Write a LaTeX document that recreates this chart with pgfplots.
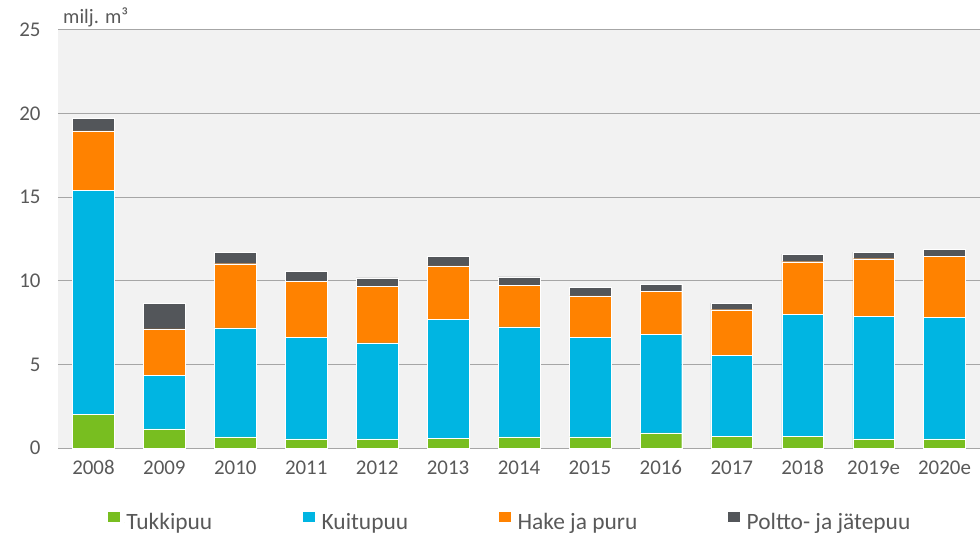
\documentclass[border=0pt]{standalone}
\usepackage{pgfplots}
\pgfplotsset{compat=1.18}
\usepackage{pgfplotstable}
\usepackage{fontspec}
\setmainfont{Carlito}
\definecolor{cGreen}{HTML}{78BE20}
\definecolor{cBlue}{HTML}{00B5E2}
\definecolor{cOrange}{HTML}{FF8200}
\definecolor{cGray}{HTML}{53565A}
\definecolor{txt}{HTML}{595959}
\definecolor{bgc}{HTML}{F2F2F2}
\definecolor{gridc}{HTML}{A6A6A6}

\pgfplotstableread{
x tukki kuitu hake poltto
0 2.00 13.40 3.57 0.75
1 1.14 3.20 2.79 1.51
2 0.66 6.53 3.83 0.67
3 0.54 6.07 3.37 0.58
4 0.54 5.75 3.37 0.52
5 0.57 7.14 3.19 0.55
6 0.66 6.59 2.49 0.50
7 0.66 5.95 2.49 0.52
8 0.91 5.90 2.55 0.44
9 0.69 4.84 2.74 0.40
10 0.69 7.32 3.13 0.46
11 0.54 7.35 3.43 0.40
12 0.54 7.27 3.64 0.44
}\datatable

\begin{document}
\begin{tikzpicture}
\begin{axis}[
  at={(0,0)}, anchor=south west,
  scale only axis, width=922bp, height=418bp,
  ybar stacked, bar width=41.7bp,
  xmin=-0.5, xmax=12.5, ymin=0, ymax=25,
  xtick={0,1,2,3,4,5,6,7,8,9,10,11,12},
  xticklabels={2008,2009,2010,2011,2012,2013,2014,2015,2016,2017,2018,2019e,2020e},
  ytick={0,5,10,15,20,25},
  ymajorgrids, grid style={draw=gridc, line width=1bp},
  axis line style={draw=none},
  major tick length=0pt,
  axis background/.style={fill=bgc},
  tick label style={font=\fontsize{21}{24}\selectfont, text=txt},
  /pgf/number format/assume math mode=true,
  yticklabel style={xshift=-14bp},
  xticklabel style={yshift=-9bp},
  clip=false,
  legend image code/.code={\fill[#1] (0bp,-1bp) rectangle (12.5bp,11.5bp); \path (0bp,0bp) -- (17bp,0bp);},
  legend style={at={(axis description cs:0.053,-0.177)}, anchor=west,
    draw=none, fill=none, legend columns=4, inner sep=0pt,
    font=\fontsize{23.5}{26}\selectfont, text=txt,
    /tikz/every even column/.append style={column sep=88bp}},
]
\addplot[fill=cGreen, draw=white, line width=0.4bp] table[x=x, y=tukki]{\datatable};
\addlegendentry{Tukkipuu}
\addplot[fill=cBlue, draw=white, line width=0.4bp] table[x=x, y=kuitu]{\datatable};
\addlegendentry{Kuitupuu}
\addplot[fill=cOrange, draw=white, line width=0.4bp] table[x=x, y=hake]{\datatable};
\addlegendentry{Hake ja puru}
\addplot[fill=cGray, draw=white, line width=0.4bp] table[x=x, y=poltto]{\datatable};
\addlegendentry{Poltto- ja jätepuu}
\node[anchor=base west, font=\fontsize{20.5}{24}\selectfont, text=txt, inner sep=0pt]
  at (rel axis cs:0,1) [xshift=5bp, yshift=6bp] {milj. m³};
\end{axis}
\pgfresetboundingbox
\path[use as bounding box] (-58bp,-87bp) rectangle (922bp,448bp);
\end{tikzpicture}
\end{document}
